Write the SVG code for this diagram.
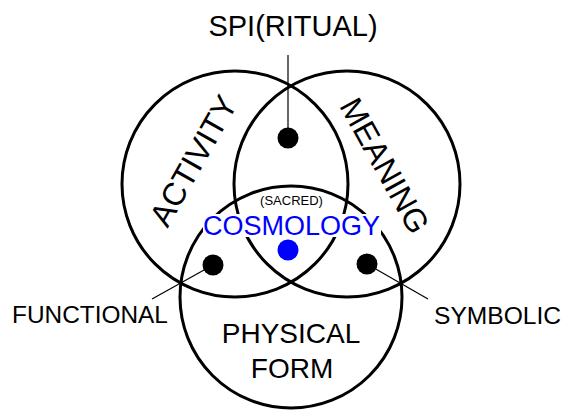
<svg xmlns="http://www.w3.org/2000/svg" width="563" height="413" viewBox="0 0 563 413">
<style>
.c{fill:none;stroke:#000;stroke-width:3}
.l{stroke:#000;stroke-width:1.2;fill:none}
.t{font-family:"Liberation Sans",Arial,sans-serif;fill:#000}
.d{fill:#000}
</style>
<rect width="563" height="413" fill="#fff"/>
<g id="activity">
<circle class="c" cx="235" cy="184" r="113"/>
<text class="t" font-size="32" text-anchor="middle" transform="translate(203,166) rotate(-60.5)">ACTIVITY</text>
</g>
<g id="meaning">
<circle class="c" cx="347" cy="184" r="113"/>
<text class="t" font-size="32" text-anchor="middle" transform="translate(375,171) rotate(61)">MEANING</text>
</g>
<g id="physical-form">
<circle class="c" cx="291" cy="297" r="111"/>
<text class="t" font-size="28" text-anchor="middle" x="291" y="343">PHYSICAL</text>
<text class="t" font-size="28" text-anchor="middle" x="292" y="378">FORM</text>
</g>
<g id="connectors">
<line class="l" x1="288" y1="55" x2="288" y2="138"/>
<line class="l" x1="213" y1="265" x2="152" y2="299"/>
<line class="l" x1="367" y1="264" x2="428" y2="299"/>
</g>
<g id="spiritual">
<circle class="d" cx="288" cy="138" r="10.5"/>
<text class="t" font-size="29" text-anchor="middle" x="293" y="36">SPI(RITUAL)</text>
</g>
<g id="functional">
<circle class="d" cx="213" cy="265" r="10.5"/>
<text class="t" font-size="24.4" x="12" y="323">FUNCTIONAL</text>
</g>
<g id="symbolic">
<circle class="d" cx="367" cy="264" r="10.5"/>
<text class="t" font-size="24.6" x="434" y="324">SYMBOLIC</text>
</g>
<g id="cosmology">
<rect x="203" y="214" width="178" height="23" fill="#fff"/>
<circle cx="288" cy="250" r="10.5" fill="#0000ff"/>
<text class="t" font-size="13" text-anchor="middle" x="291.5" y="205">(SACRED)</text>
<text font-family="'Liberation Sans',Arial,sans-serif" font-size="27" fill="#0000ff" text-anchor="middle" x="291.5" y="235">COSMOLOGY</text>
</g>
</svg>
